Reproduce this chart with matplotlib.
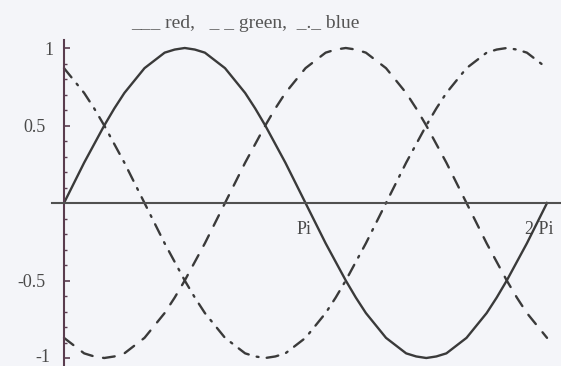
import numpy as np
import matplotlib
matplotlib.use("Agg")
import matplotlib.pyplot as plt
from matplotlib.transforms import ScaledTranslation

# sample points every pi/24 over one period
x = np.arange(49) * np.pi / 24

red = [0, .13, .26, .38, .50, .61, .71, .79, .87, .92, .97, .99, 1.0,
       .99, .97, .92, .87, .79, .71, .61, .50, .38, .26, .13, 0,
       -.13, -.26, -.38, -.50, -.61, -.71, -.79, -.87, -.92, -.97, -.99, -1.0,
       -.99, -.97, -.92, -.87, -.79, -.71, -.61, -.50, -.38, -.26, -.13, 0]

green = [-.87, -.92, -.97, -.99, -1.0, -.99, -.97, -.92, -.87, -.79, -.71,
         -.61, -.50, -.38, -.26, -.13, 0, .13, .26, .38, .50, .61, .71, .79,
         .87, .92, .97, .99, 1.0, .99, .97, .92, .87, .79, .71, .61, .50, .38,
         .26, .13, 0, -.13, -.26, -.38, -.50, -.61, -.71, -.79, -.87]

blue = [.87, .79, .71, .61, .50, .38, .26, .13, 0, -.13, -.26, -.38, -.50,
        -.61, -.71, -.79, -.87, -.92, -.97, -.99, -1.0, -.99, -.97, -.92,
        -.87, -.79, -.71, -.61, -.50, -.38, -.26, -.13, 0, .13, .26, .38,
        .50, .61, .71, .79, .87, .92, .97, .99, 1.0, .99, .97, .92, .87]

ytick_vals = [-1, -0.5, 0.5, 1]
ytick_labels = ["-1", "-0.5", "0.5", "1"]
xtick_vals = [np.pi, 2 * np.pi]
xtick_labels = ["Pi", "2 Pi"]

bg = "#f4f5f9"
ink = "#3a3a3a"
axis_col = "#5a3d4f"
serif = ["Liberation Serif", "DejaVu Serif"]

fig = plt.figure(figsize=(5.61, 3.66), dpi=100, facecolor=bg)
ax = fig.add_axes([0, 0, 1, 1], facecolor=bg)

ax.plot(x, red, color=ink, lw=1.7, solid_joinstyle="round")
ax.plot(x, green, color=ink, lw=1.7, dashes=(5, 4.5), dash_capstyle="round")
ax.plot(x, blue, color=ink, lw=1.7, dashes=(5, 3.5, 0.8, 3.5), dash_capstyle="round")

ax.set_xlim(-0.8326, 6.465)
ax.set_ylim(-1.0516, 1.3097)

for s in ("top", "right"):
    ax.spines[s].set_visible(False)
ax.spines["left"].set_position(("data", 0))
ax.spines["bottom"].set_position(("data", 0))
ax.spines["left"].set_bounds(-1.06, 1.052)
ax.spines["bottom"].set_bounds(-0.156, 6.47)
ax.spines["left"].set_color(axis_col)
ax.spines["bottom"].set_color("#505050")
ax.spines["left"].set_linewidth(1.5)
ax.spines["bottom"].set_linewidth(1.5)

ax.set_yticks(ytick_vals)
ax.set_yticklabels(ytick_labels, family=serif, fontsize=13, color="#4a4a4a")
ax.set_yticks([v / 10 for v in range(-10, 11) if v % 5], minor=True)
ax.tick_params(axis="y", which="major", direction="in", length=4, width=1.2,
               color=axis_col, pad=12)
ax.tick_params(axis="y", which="minor", direction="in", length=2.5, width=1.0,
               color=axis_col)

ax.set_xticks(xtick_vals)
ax.set_xticklabels(xtick_labels, family=serif, fontsize=13, color="#4a4a4a")
ax.tick_params(axis="x", which="major", direction="in", length=0, pad=13)


def nudge(label, dx, dy):
    # shift a tick label by a few pixels
    label.set_transform(label.get_transform()
                        + ScaledTranslation(dx / 100, dy / 100, fig.dpi_scale_trans))


# x labels end just past their tick
for lab in ax.get_xticklabels():
    lab.set_horizontalalignment("right")
    nudge(lab, 6, 0)

# y labels are not quite right-aligned
ylabs = ax.get_yticklabels()
nudge(ylabs[0], 3, 3)
nudge(ylabs[1], -2, 0)
nudge(ylabs[2], -2, 0)
nudge(ylabs[3], 6, 0)

fig.text(0.437, 0.9235, "___ red,   _ _ green,  _._ blue", family=serif,
         fontsize=14, color="#555555", ha="center", va="baseline")

fig.savefig("out.png", dpi=100, facecolor=bg)
